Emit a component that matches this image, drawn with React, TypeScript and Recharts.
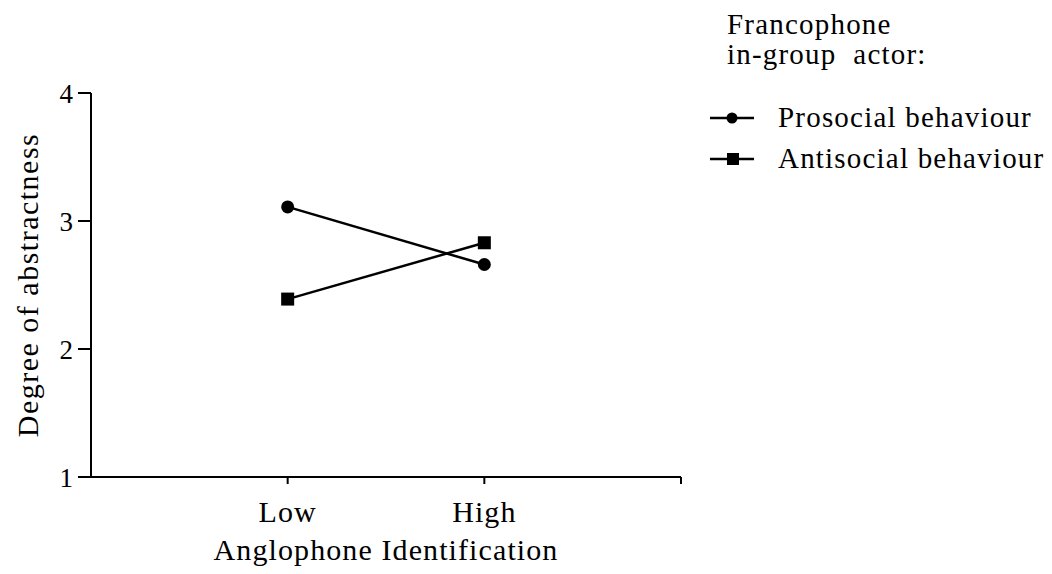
import React from 'react';
import { LineChart, Line, XAxis, YAxis, Label } from 'recharts';

const categories = ['Low', 'High'];
const prosocial = [3.11, 2.66];
const antisocial = [2.39, 2.83];
const yTicks = [1, 2, 3, 4];
const legendTitle = ['Francophone', 'in-group\u00a0 actor:'];

const data = categories.map((c, i) => ({
  x: i + 1,
  label: c,
  prosocial: prosocial[i],
  antisocial: antisocial[i],
}));

const series = [
  { key: 'prosocial', name: 'Prosocial behaviour', shape: 'circle' },
  { key: 'antisocial', name: 'Antisocial behaviour', shape: 'square' },
];

const font = '"Liberation Serif", "Times New Roman", serif';

const SquareDot = (props: any) => {
  const { cx, cy } = props;
  if (cx == null || cy == null) return null;
  return <rect x={cx - 6.5} y={cy - 6.5} width={13} height={13} fill="#000" />;
};

const CircleDot = (props: any) => {
  const { cx, cy } = props;
  if (cx == null || cy == null) return null;
  return <circle cx={cx} cy={cy} r={6.5} fill="#000" />;
};

function LegendBox() {
  return (
    <div
      style={{
        position: 'absolute',
        left: 708,
        top: 9,
        fontFamily: font,
        fontSize: 29,
        letterSpacing: 1.2,
        color: '#000',
      }}
    >
      <div style={{ marginLeft: 19, lineHeight: '30px' }}>{legendTitle[0]}</div>
      <div style={{ marginLeft: 19, lineHeight: '30px', marginBottom: 28 }}>{legendTitle[1]}</div>
      {series.map((s) => (
        <div key={s.key} style={{ display: 'flex', alignItems: 'center', height: 41 }}>
          <svg width={48} height={20}>
            <line x1={2} y1={10} x2={46} y2={10} stroke="#000" strokeWidth={2.5} />
            {s.shape === 'circle' ? (
              <circle cx={24} cy={10} r={5.5} fill="#000" />
            ) : (
              <rect x={19} y={4} width={12} height={12} fill="#000" />
            )}
          </svg>
          <span style={{ marginLeft: 22 }}>{s.name}</span>
        </div>
      ))}
    </div>
  );
}

export default function App() {
  return (
    <div style={{ position: 'absolute', left: 0, top: 0, width: 1052, height: 574, background: '#fff' }}>
      <LineChart
        width={1052}
        height={574}
        data={data}
        margin={{ top: 93, right: 371, bottom: 37, left: 21 }}
      >
        <XAxis
          dataKey="x"
          type="number"
          domain={[0, 3]}
          ticks={[1, 2, 3]}
          tickFormatter={(v: number) => (v >= 1 && v <= categories.length ? categories[v - 1] : '')}
          axisLine={{ stroke: '#000', strokeWidth: 2 }}
          tickLine={{ stroke: '#000', strokeWidth: 2 }}
          tickSize={7}
          tickMargin={17}
          height={60}
          tick={{ fill: '#000', fontSize: 30, fontFamily: font, letterSpacing: 1.1 }}
        >
          <Label
            value="Anglophone Identification"
            position="insideBottom"
            offset={-23}
            style={{ fill: '#000', fontSize: 30, fontFamily: font, letterSpacing: 1.1 }}
          />
        </XAxis>
        <YAxis
          type="number"
          domain={[1, 4]}
          ticks={yTicks}
          axisLine={{ stroke: '#000', strokeWidth: 2 }}
          tickLine={{ stroke: '#000', strokeWidth: 2 }}
          tickSize={13}
          tickMargin={5}
          width={70}
          tick={{ fill: '#000', fontSize: 27, fontFamily: font }}
        >
          <Label
            value="Degree of abstractness"
            angle={-90}
            position="insideLeft"
            offset={6}
            style={{ fill: '#000', fontSize: 30, fontFamily: font, letterSpacing: 1.5, textAnchor: 'middle' }}
          />
        </YAxis>
        <Line
          dataKey="prosocial"
          name="Prosocial behaviour"
          stroke="#000"
          strokeWidth={2.5}
          dot={<CircleDot />}
          activeDot={false}
          isAnimationActive={false}
        />
        <Line
          dataKey="antisocial"
          name="Antisocial behaviour"
          stroke="#000"
          strokeWidth={2.5}
          dot={<SquareDot />}
          activeDot={false}
          isAnimationActive={false}
        />
      </LineChart>
      <LegendBox />
    </div>
  );
}
